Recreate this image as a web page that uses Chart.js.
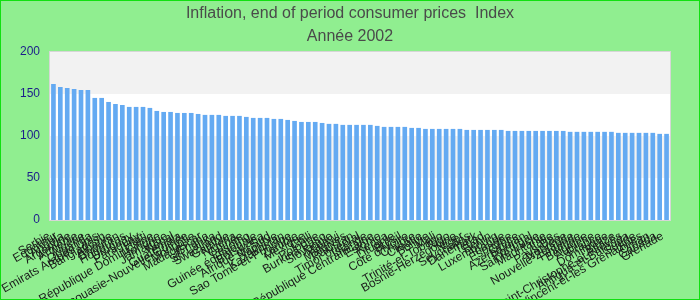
<!DOCTYPE html>
<html><head><meta charset="utf-8">
<script src="https://cdn.jsdelivr.net/npm/chart.js@4"></script>
<style>html,body{margin:0;padding:0;background:#90ee90;}canvas{display:block;}</style>
</head><body>
<canvas id="c" width="700" height="300"></canvas>
<script>
const categories = ["Serbie","Equateur","Angola","Argentine","Arménie","Algérie","Ouganda","Emirats Arabes Unis","Bangladesh","Albanie",
"Bhoutan","Honduras","Uruguay","Paraguay","Haïti","République Dominicaine","Hongrie","Jamaïque","Népal","Guatemala",
"Papouasie-Nouvelle-Guinée","Mongolie","Madagascar","Ghana","Sri Lanka","Swaziland","Gambie","Nigeria","Guinée","Lesotho",
"Guinée équatoriale","Botswana","Afrique du Sud","Namibie","Kazakhstan","Sao Tomé-et-Principe","Zambie","Mexique","Chili","Pologne",
"Burkina Faso","Slovaquie","Malawi","Maldives","Pakistan","Timor oriental","Islande","République Centrafricaine","Estonie","Kenya",
"Lituanie","Brésil","Côte d'Ivoire","Chypre","Croatie","Bolivie","Mali","Trinité-et-Tobago","Togo","Bosnie-Herzégovine",
"Niger","Seychelles","Danemark","Tchad","Bénin","Luxembourg","Irlande","Espagne","Grèce","Azerbaïdjan",
"Portugal","Sainte-Lucie","Mauritanie","Italie","Pays-Bas","Norvège","Nouvelle-Zélande","Finlande","Belgique","Autriche",
"France","Dominique","Belize","Saint-Christophe-et-Niévès","Antigua-et-Barbuda","Suède","Saint-Vincent-et-les Grenadines","Oman","Canada","Grenade"];
const values = [161.6,158.0,156.8,155.6,154.5,154.5,145.0,145.0,140.2,137.8,
136.6,134.3,134.3,134.3,133.1,129.5,128.3,128.3,127.1,127.1,
127.1,125.9,124.8,124.8,124.8,123.6,123.6,123.6,122.4,121.2,
121.2,121.2,120.0,120.0,118.8,117.6,116.4,116.4,116.4,115.2,
114.1,114.1,112.9,112.9,112.9,112.9,112.9,111.7,110.5,110.5,
110.5,110.5,109.3,109.3,108.1,108.1,108.1,108.1,108.1,108.1,
106.9,106.9,106.9,106.9,106.9,106.9,105.7,105.7,105.7,105.7,
105.7,105.7,105.7,105.7,105.7,104.6,104.6,104.6,104.6,104.6,
104.6,104.6,103.4,103.4,103.4,103.4,103.4,103.4,102.2,102.2];
const yTicks = [0,50,100,150,200];
const bands = [[150,200],[50,100]];
const titleLines = ["Inflation, end of period consumer prices  Index","Année 2002"];

const bgPlugin = {
  id:'bg',
  beforeDatasetsDraw(chart){
    const {ctx, chartArea:a, scales:{y}} = chart;
    ctx.save();
    ctx.fillStyle = '#ffffff';
    ctx.fillRect(a.left, a.top, a.right-a.left, a.bottom-a.top);
    ctx.fillStyle = '#f2f2f2';
    bands.forEach(([lo,hi])=>{
      const t = y.getPixelForValue(hi), b = y.getPixelForValue(lo);
      ctx.fillRect(a.left, t, a.right-a.left, b-t);
    });
    ctx.restore();
  },
  afterDraw(chart){
    const {ctx, chartArea:a} = chart;
    ctx.save();
    ctx.strokeStyle = '#d6d6d6'; ctx.lineWidth = 1;
    ctx.strokeRect(Math.round(a.left)-0.5, Math.round(a.top)-0.5, Math.round(a.right-a.left)+1, Math.round(a.bottom-a.top)+1);
    ctx.strokeStyle = '#11e011';
    ctx.strokeRect(0.5,0.5,699,299);
    ctx.restore();
  }
};

new Chart(document.getElementById('c'), {
  type:'bar',
  data:{labels:categories, datasets:[{data:values, backgroundColor:'#64aaf2', barThickness:4, yAxisID:'y'}]},
  options:{
    responsive:false, animation:false,
    layout:{padding:0},
    plugins:{
      legend:{display:false}, tooltip:{enabled:false},
      title:{display:true, text:titleLines, color:'#4a4a4a',
        font:{family:"'Liberation Sans Narrow','Arial Narrow','Liberation Sans',sans-serif", size:16, weight:'normal', lineHeight:1.44},
        padding:{top:2,bottom:4}}
    },
    scales:{
      x:{
        grid:{display:false, drawTicks:false}, border:{display:false},
        ticks:{autoSkip:false, minRotation:30, maxRotation:30, padding:9, labelOffset:-4, color:'#1a1a1a',
          font:{family:"'Liberation Sans',Arial,sans-serif", size:12}},
        afterFit(s){ s.height = 80; }
      },
      y:{
        position:'left', min:0, max:200,
        afterBuildTicks(s){ s.ticks = yTicks.map(v=>({value:v})); },
        grid:{display:false, drawTicks:false}, border:{display:false},
        ticks:{padding:10, color:'#1c1c8a', font:{family:"'Liberation Sans',Arial,sans-serif", size:12}},
        afterFit(s){ s.width = 50; }
      },
      yr:{
        position:'right', display:true,
        grid:{display:false, drawTicks:false}, border:{display:false},
        ticks:{display:false},
        afterFit(s){ s.width = 30; }
      }
    }
  },
  plugins:[bgPlugin]
});
</script>
</body></html>
